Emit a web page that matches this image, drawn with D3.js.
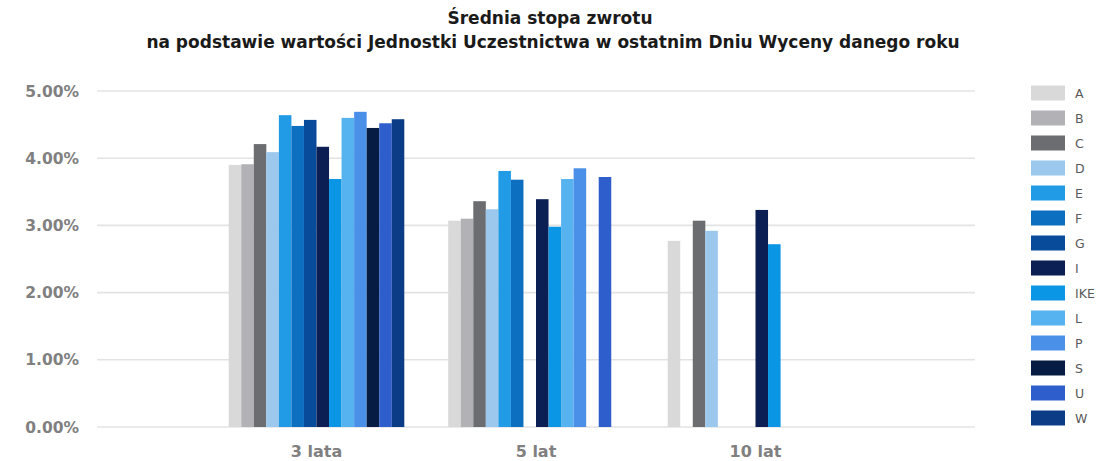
<!DOCTYPE html>
<html>
<head>
<meta charset="utf-8">
<script src="https://cdn.jsdelivr.net/npm/d3@7"></script>
<style>
  body{ margin:0; padding:0; background:#fff; }
  svg{ display:block; font-family:"DejaVu Sans", Verdana, sans-serif; }
</style>
</head>
<body>
<div id="chart"></div>
<script>
// categories and series
const categories = ["3 lata", "5 lat", "10 lat"];
const funds = ["A", "B", "C", "D", "E", "F", "G", "I", "IKE", "L", "P", "S", "U", "W"];
const colors = ["#d9d9d9", "#b2b2b6", "#6b6d70", "#9cc8ee", "#219be6", "#0d6fc0",
                "#084b9a", "#0b1f55", "#0a96e4", "#56b3ef", "#4a8fe8", "#061c42",
                "#2e5dcc", "#0c3c86"];

// values in %, null = no bar
const ret3 = [3.90, 3.91, 4.21, 4.09, 4.64, 4.48, 4.57, 4.17, 3.69, 4.60, 4.69, 4.45, 4.52, 4.58];
const ret5 = [3.07, 3.10, 3.36, 3.24, 3.81, 3.68, null, 3.39, 2.98, 3.69, 3.85, null, 3.72, null];
const ret10 = [2.77, null, 3.07, 2.92, null, null, null, 3.23, 2.72, null, null, null, null, null];
const yTicks = [0, 1, 2, 3, 4, 5];

const byCategory = [ret3, ret5, ret10];

var width = 1097, height = 461;
var svg = d3.select("#chart").append("svg")
    .attr("width", width)
    .attr("height", height);

// title
var title = svg.append("text")
    .attr("text-anchor", "middle")
    .attr("font-weight", "bold")
    .attr("font-size", 17)
    .attr("fill", "#1a1a1a");
title.append("tspan").attr("x", 550).attr("y", 24).text("Średnia stopa zwrotu");
title.append("tspan").attr("x", 553).attr("y", 48)
    .text("na podstawie wartości Jednostki Uczestnictwa w ostatnim Dniu Wyceny danego roku");

var x0 = d3.scaleBand()
    .domain(categories)
    .range([97, 975])
    .paddingInner(0.2)
    .paddingOuter(0.6);

var x1 = d3.scaleBand()
    .domain(funds)
    .range([0, x0.bandwidth()]);

var y = d3.scaleLinear()
    .domain([0, 5])
    .range([427, 91]);

// gridlines
svg.append("g")
    .selectAll("line")
    .data(yTicks)
    .enter()
    .append("line")
    .attr("x1", 97)
    .attr("x2", 975)
    .attr("y1", (d) => y(d))
    .attr("y2", (d) => y(d))
    .attr("stroke", "#e3e3e3")
    .attr("stroke-width", 1.6);

// y labels
svg.append("g")
    .selectAll("text")
    .data(yTicks)
    .enter()
    .append("text")
    .attr("x", 79)
    .attr("y", (d) => y(d) + 5.5)
    .attr("text-anchor", "end")
    .attr("font-size", 15.5)
    .attr("font-weight", "bold")
    .attr("fill", "#808080")
    .text((d) => d3.format(".2f")(d) + "%");

// bars
var groups = svg.append("g")
    .selectAll("g")
    .data(categories)
    .enter()
    .append("g")
    .attr("transform", (d) => "translate(" + x0(d) + ",0)");

groups.selectAll("rect")
    .data((d, i) => byCategory[i].map((v, j) => ({fund: funds[j], value: v, color: colors[j]})).filter((e) => e.value !== null))
    .enter()
    .append("rect")
    .attr("x", (d) => x1(d.fund))
    .attr("width", x1.bandwidth())
    .attr("y", (d) => y(d.value))
    .attr("height", (d) => y(0) - y(d.value))
    .attr("fill", (d) => d.color);

// x labels
svg.append("g")
    .selectAll("text")
    .data(categories)
    .enter()
    .append("text")
    .attr("x", (d) => x0(d) + x0.bandwidth() / 2)
    .attr("y", 457)
    .attr("text-anchor", "middle")
    .attr("font-size", 16)
    .attr("font-weight", "bold")
    .attr("fill", "#808080")
    .text((d) => d);

// legend
var legend = svg.append("g")
    .selectAll("g")
    .data(funds)
    .enter()
    .append("g")
    .attr("transform", (d, i) => "translate(1031," + (93 + i * 25) + ")");

legend.append("rect")
    .attr("x", 0)
    .attr("y", -7.5)
    .attr("width", 34)
    .attr("height", 15)
    .attr("fill", (d, i) => colors[i]);

legend.append("text")
    .attr("x", 44)
    .attr("y", 5)
    .attr("font-size", 12.5)
    .attr("fill", "#595959")
    .text((d) => d);
</script>
</body>
</html>
